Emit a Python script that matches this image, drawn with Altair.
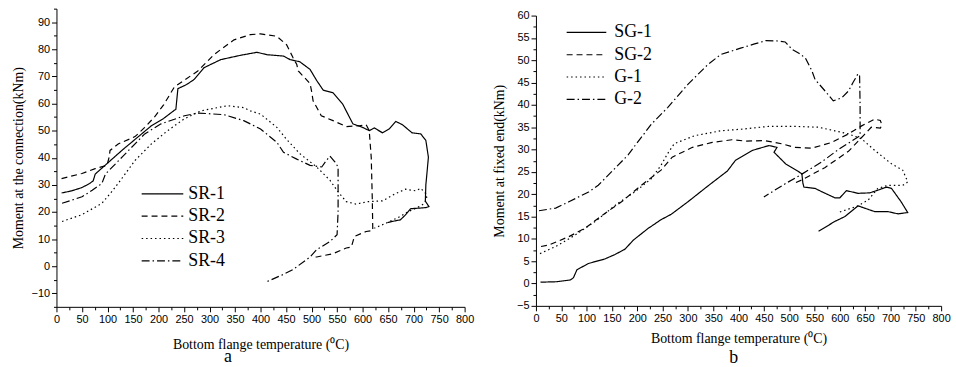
import altair as alt
import pandas as pd

# ---------------- Panel a : moment at the connection ----------------
sr_names = ["SR-1", "SR-2", "SR-3", "SR-4"]

sr1_t = [10, 30, 50, 65, 72, 76, 85, 100, 130, 167, 186, 210, 231, 234, 238, 255, 270, 289, 322, 361, 393,
         413, 445, 458, 477, 497, 510, 523, 542, 561, 581, 600, 613, 623, 630, 639, 652, 665, 678, 697, 714,
         724, 729, 726, 724, 723, 730, 724, 694, 684, 674, 658, 649]
sr1_m = [27, 27.8, 29, 30.5, 31.5, 34, 35.5, 38, 43, 48.8, 51.8, 54.5, 57.5, 57.8, 65.5, 67, 68.9, 73.2, 76.2,
         77.8, 78.9, 78, 77.5, 76.2, 75.4, 72.6, 68.5, 64.9, 64, 59.8, 52.5, 51.2, 50, 51, 50.2, 49.2, 50.6,
         53.4, 52.2, 49.2, 48.8, 46.4, 40.2, 34, 30, 24, 22, 21.6, 21.2, 18.9, 17.1, 16.5, 16.1]

sr2_t = [10, 50, 76, 99, 103, 105, 121, 154, 173, 192, 210, 231, 277, 309, 348, 380, 400, 432, 451, 464, 471,
         474, 497, 500, 503, 519, 542, 568, 594, 607, 613, 617, 619, 620, 607, 584, 578, 568, 542, 510, 500]
sr2_m = [32.3, 34.2, 36, 37.2, 40, 42.7, 45.1, 47.8, 51.2, 55, 59.5, 66.1, 72, 78.1, 83.5, 85.4, 85.7, 84.8,
         81.7, 76.8, 74.4, 72, 67.4, 64.6, 61, 55.5, 53.7, 51.5, 51.8, 52.2, 50, 40, 25, 13.2, 12.8, 11, 7.1,
         6.7, 4.6, 3.4, 3.3]

sr3_t = [11, 50, 89, 108, 122, 154, 186, 218, 250, 283, 335, 367, 380, 400, 432, 450, 477, 510, 536, 552, 568,
         587, 610, 639, 665, 684, 704, 714, 724, 726, 720, 705, 690, 670, 649, 623]
sr3_m = [16.5, 19, 23.2, 27.4, 30.8, 39, 45.1, 50, 54.3, 57.3, 59.2, 58.5, 57.3, 56.1, 51.2, 47, 41.5, 36.6,
         31.7, 27.4, 23.8, 22.9, 23.8, 24.1, 26.8, 28.4, 27.8, 28.7, 26.8, 25, 23, 21.4, 20.2, 18, 16.1, 14]

sr4_t = [11, 50, 70, 89, 96, 130, 173, 205, 251, 277, 328, 367, 400, 432, 445, 471, 497, 520, 529, 536, 546,
         552, 552, 550, 536, 510, 497, 464, 445, 409]
sr4_m = [23.2, 25.6, 28, 30.5, 34, 40.5, 48.8, 52.5, 55.5, 56.5, 55.9, 53.7, 50.6, 45.7, 42, 39.5, 37.2, 36.6,
         39, 40.6, 38.4, 36.6, 20, 11.6, 9.1, 6.1, 3.4, -1.2, -3, -6]

# ---------------- Panel b : moment at fixed end ----------------
sg_names = ["SG-1", "SG-2", "G-1", "G-2"]

sg1_t = [9, 40, 68, 74, 81, 104, 136, 156, 176, 192, 221, 247, 267, 300, 339, 378, 394, 427, 460, 476, 470,
         493, 525, 527, 529, 551, 571, 590, 600, 613, 636, 659, 675, 692, 702, 721, 734, 715, 695, 669, 656,
         636, 610, 590, 558]
sg1_m = [0.3, 0.4, 0.8, 1.3, 3.1, 4.5, 5.5, 6.5, 7.7, 9.7, 12.3, 14.3, 15.5, 18.3, 21.8, 25.2, 27.6, 29.8,
         30.9, 30.5, 29.4, 26.8, 24.6, 22.5, 21.6, 21.3, 20.2, 19.2, 19.2, 20.8, 20.2, 20.3, 20.9, 21.6, 21.3,
         18.3, 15.9, 15.6, 16.1, 16.1, 16.6, 17.4, 15, 13.9, 11.7]

sg2_t = [10, 25, 65, 97, 136, 169, 208, 247, 269, 309, 348, 387, 413, 452, 485, 511, 544, 563, 584, 617, 643,
         669, 680, 683, 680, 662, 648, 617, 571, 525, 509]
sg2_m = [8.3, 8.6, 10.5, 12.4, 15.7, 18.3, 22, 25.4, 28.3, 30.5, 31.6, 32.2, 31.9, 32, 31.3, 30.5, 30.3, 30.9,
         31.6, 33.5, 35.3, 36.8, 36.5, 35.5, 34.8, 35, 33.3, 29.6, 26.0, 23.2, 22.4]

g1_t = [8, 39, 78, 117, 162, 195, 228, 247, 260, 273, 313, 365, 410, 460, 510, 558, 590, 617, 643, 669, 702,
        724, 734, 730, 724, 695, 675, 656, 636, 597]
g1_m = [6.7, 8.3, 10.9, 13.9, 18, 20.5, 23.5, 26.5, 29.1, 31.3, 33.1, 34.2, 34.6, 35.2, 35.2, 35, 34.2, 33.5,
        32.4, 29.8, 26.8, 25.4, 22.8, 22.3, 22, 22, 21.3, 18.7, 17.4, 15.9]

g2_t = [6, 39, 65, 104, 123, 156, 182, 195, 228, 260, 300, 339, 365, 404, 430, 454, 480, 492, 506, 520, 532,
        545, 551, 571, 587, 604, 617, 626, 636, 639, 640, 640, 597, 565, 525, 493, 450]
g2_m = [16.3, 16.9, 18.3, 20.5, 22, 25.8, 28.8, 30.8, 35.7, 39.4, 44.6, 49, 51.3, 52.7, 53.6, 54.4, 54.3, 54.1,
        52.4, 51.5, 50.5, 47.6, 45.7, 43.1, 40.9, 41.6, 43.1, 45, 47, 46.5, 40, 33.1, 30.0, 27.3, 24.5, 22.4,
        19.4]

x_ticks = list(range(0, 801, 25))


def frame(names, ts, ms):
    rows = []
    for n, tt, mm in zip(names, ts, ms):
        for i, (a, b) in enumerate(zip(tt, mm)):
            rows.append({"series": n, "i": i, "t": a, "m": b})
    return pd.DataFrame(rows)


dashes = [[1, 0], [6, 4], [1.5, 3], [8, 3, 1.5, 3]]

LABEL_FONT = "Liberation Sans"
SERIF = "Liberation Serif"
# legend sample: a horizontal stroke three times as long as the symbol's nominal size
LEGEND_SHAPE = "M-3,0H3"


def panel(df, names, ydom, yrange, ystep, ylab, width, height, ytitle, ytp, xtp,
          legx, legy, symlen, rowpad, laboff, caption, cap_dx, cap_off):
    n_steps = int(round((ydom[1] - ydom[0]) / (ystep / 2)))
    y_ticks = [ydom[0] + k * ystep / 2 for k in range(n_steps + 1)]
    unit = symlen / 3.0
    return alt.Chart(df).mark_line(color="black", strokeWidth=1.2).encode(
        x=alt.X("t:Q",
                scale=alt.Scale(domain=[0, 800], nice=False, zero=False),
                axis=alt.Axis(values=x_ticks, title="Bottom flange temperature (\u2070C)",
                              labelExpr="datum.value % 50 === 0 ? datum.label : ''",
                              labelOverlap=False, labelFlush=False, grid=False,
                              tickSize={"condition": {"test": "datum.value % 50 === 0", "value": 5}, "value": 3},
                              labelPadding=2, titlePadding=xtp)),
        y=alt.Y("m:Q",
                scale=alt.Scale(domain=ydom, nice=False, zero=False, range=yrange),
                axis=alt.Axis(values=y_ticks, title=ytitle,
                              labelExpr="datum.value %% %s === 0 ? datum.label : ''" % ylab,
                              labelOverlap=False, labelFlush=False, grid=False,
                              tickSize={"condition": {"test": "datum.value %% %s === 0" % ylab, "value": 5}, "value": 3},
                              labelPadding=2, titlePadding=ytp)),
        strokeDash=alt.StrokeDash("series:N",
                                  scale=alt.Scale(domain=names, range=dashes),
                                  legend=alt.Legend(title=None, orient="none", legendX=legx, legendY=legy,
                                                    symbolType=LEGEND_SHAPE, symbolSize=unit * unit,
                                                    symbolStrokeColor="black", symbolStrokeWidth=1.2,
                                                    symbolFillColor="transparent",
                                                    labelFont=SERIF, labelFontSize=18, labelColor="black",
                                                    labelOffset=laboff, rowPadding=rowpad, padding=0)),
        order=alt.Order("i:Q"),
    ).properties(
        width=width, height=height,
        title=alt.TitleParams(caption, orient="bottom", anchor="middle", font=SERIF, fontSize=18,
                              fontWeight="normal", color="black", dx=cap_dx, offset=cap_off),
    )


left = panel(frame(sr_names, [sr1_t, sr2_t, sr3_t, sr4_t], [sr1_m, sr2_m, sr3_m, sr4_m]),
             sr_names, [-15, 95], [301, 0], 10, 10, 412, 301,
             "Moment at the connection(kNm)", 6, 13, 98, 178, 42, 4.5, 17, "a", -33, -3)

right = panel(frame(sg_names, [sg1_t, sg2_t, g1_t, g2_t], [sg1_m, sg2_m, g1_m, g2_m]),
              sg_names, [-5, 60], [300, 7], 5, 5, 409, 300,
              "Moment at fixed end(kNm)", 10, 8, 42, 15, 40, 4.5, 19, "b", -5, 4)

chart = alt.hconcat(left, right, spacing=18).resolve_scale(
    strokeDash="independent"
).resolve_legend(
    strokeDash="independent"
).properties(
    padding={"left": 11, "top": 1, "right": 5, "bottom": 0},
    background="white",
).configure_view(stroke=None).configure_axis(
    domainColor="black", tickColor="black", labelColor="black", titleColor="black",
    labelFont=LABEL_FONT, labelFontSize=11, titleFont=SERIF, titleFontSize=14,
    titleFontWeight="normal", domainWidth=1, tickWidth=1
)

chart.save("out.html", embed_options={"renderer": "svg", "actions": False})
